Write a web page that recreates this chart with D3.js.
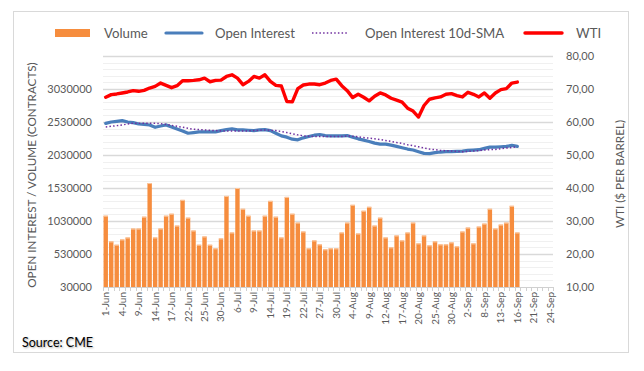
<!DOCTYPE html>
<html>
<head>
<meta charset="utf-8">
<script src="https://cdn.jsdelivr.net/npm/d3@7"></script>
<style>
  body { margin: 0; background: #fff; }
  svg { display: block; font-family: Lato, "Open Sans", sans-serif; }
  .source { text-shadow: 1px 1px 2px rgba(0,0,0,0.35); }
</style>
</head>
<body>
<svg></svg>
<script>
const width = 644;
const height = 371;
const svg = d3.select("svg").attr("width", width).attr("height", height);

// trading days, 2021
const categories = [
	"1-Jun","2-Jun","3-Jun","4-Jun","7-Jun","8-Jun","9-Jun","10-Jun","11-Jun","14-Jun","15-Jun","16-Jun","17-Jun","18-Jun","21-Jun","22-Jun","23-Jun","24-Jun","25-Jun","28-Jun","29-Jun","30-Jun",
	"1-Jul","2-Jul","6-Jul","7-Jul","8-Jul","9-Jul","12-Jul","13-Jul","14-Jul","15-Jul","16-Jul","19-Jul","20-Jul","21-Jul","22-Jul","23-Jul","26-Jul","27-Jul","28-Jul","29-Jul","30-Jul",
	"2-Aug","3-Aug","4-Aug","5-Aug","6-Aug","9-Aug","10-Aug","11-Aug","12-Aug","13-Aug","16-Aug","17-Aug","18-Aug","19-Aug","20-Aug","23-Aug","24-Aug","25-Aug","26-Aug","27-Aug","30-Aug","31-Aug",
	"1-Sep","2-Sep","3-Sep","7-Sep","8-Sep","9-Sep","10-Sep","13-Sep","14-Sep","15-Sep","16-Sep","17-Sep","20-Sep","21-Sep","22-Sep","23-Sep","24-Sep"
];

const volume = [
	1110000, 720000, 670000, 750000, 780000, 915000, 915000, 1095000, 1605000, 780000,
	915000, 1110000, 1140000, 960000, 1350000, 1080000, 885000, 670000, 795000, 670000,
	615000, 765000, 1410000, 855000, 1530000, 1215000, 1110000, 885000, 885000, 1110000,
	1335000, 1095000, 780000, 1395000, 1140000, 1005000, 870000, 615000, 735000, 675000,
	600000, 615000, 615000, 855000, 1005000, 1275000, 840000, 1185000, 1245000, 960000,
	1080000, 780000, 630000, 810000, 735000, 855000, 1005000, 690000, 810000, 660000,
	720000, 675000, 675000, 705000, 645000, 870000, 930000, 690000, 945000, 990000,
	1215000, 915000, 975000, 1005000, 1260000, 855000
];

const openInterest = [
	2510000, 2530000, 2540000, 2550000, 2530000, 2520000, 2500000, 2495000, 2485000, 2450000,
	2470000, 2485000, 2455000, 2425000, 2395000, 2360000, 2370000, 2380000, 2380000, 2380000,
	2380000, 2400000, 2415000, 2425000, 2410000, 2410000, 2405000, 2400000, 2410000, 2415000,
	2400000, 2360000, 2320000, 2300000, 2270000, 2260000, 2290000, 2310000, 2330000, 2340000,
	2325000, 2320000, 2320000, 2320000, 2325000, 2300000, 2275000, 2255000, 2235000, 2210000,
	2195000, 2195000, 2180000, 2160000, 2140000, 2120000, 2105000, 2080000, 2055000, 2050000,
	2065000, 2075000, 2080000, 2080000, 2085000, 2090000, 2100000, 2105000, 2110000, 2130000,
	2150000, 2150000, 2155000, 2160000, 2175000, 2160000
];

const oiSma = [
	2455000, 2465000, 2475000, 2485000, 2500000, 2510000, 2510000, 2510000, 2510000, 2510000,
	2505000, 2495000, 2480000, 2465000, 2450000, 2435000, 2420000, 2415000, 2410000, 2405000,
	2400000, 2395000, 2395000, 2395000, 2395000, 2395000, 2395000, 2400000, 2405000, 2410000,
	2405000, 2400000, 2385000, 2370000, 2350000, 2335000, 2320000, 2315000, 2310000, 2310000,
	2310000, 2310000, 2310000, 2310000, 2320000, 2315000, 2305000, 2295000, 2285000, 2275000,
	2265000, 2250000, 2235000, 2220000, 2205000, 2185000, 2170000, 2155000, 2135000, 2120000,
	2110000, 2100000, 2095000, 2090000, 2085000, 2080000, 2085000, 2090000, 2095000, 2105000,
	2110000, 2115000, 2125000, 2135000, 2145000, 2155000
];

const wti = [
	67.5, 68.3, 68.5, 68.8, 69.1, 69.5, 69.3, 69.6, 70.3, 70.8,
	71.8, 71.1, 70.4, 71.0, 72.5, 72.5, 72.6, 72.8, 73.3, 72.2,
	72.6, 72.7, 73.8, 74.3, 73.3, 71.3, 72.3, 73.8, 73.3, 74.3,
	72.3, 71.1, 70.9, 66.2, 66.1, 70.1, 71.2, 71.5, 71.5, 71.3,
	71.8, 72.6, 73.0, 71.0, 69.5, 67.4, 68.4, 67.5, 66.4, 67.8,
	68.8, 68.2, 67.2, 66.6, 66.0, 64.2, 63.3, 61.5, 65.0, 66.9,
	67.3, 67.6, 68.4, 68.6, 68.0, 67.6, 69.0, 68.4, 67.6, 68.8,
	67.2, 68.8, 69.8, 70.1, 71.8, 72.1
];

const leftTicks = [30000, 530000, 1030000, 1530000, 2030000, 2530000, 3030000];
const rightTicks = [10, 20, 30, 40, 50, 60, 70, 80];

const plotLeft = 103, plotRight = 553, plotTop = 56, plotBottom = 287;

const x = d3.scaleBand()
	.domain(categories)
	.range([plotLeft, plotRight])
	.paddingInner(0.2)
	.paddingOuter(0.1);

const yLeft = d3.scaleLinear().domain([30000, 3530000]).range([plotBottom, plotTop]);
const yRight = d3.scaleLinear().domain([10, 80]).range([plotBottom, plotTop]);

const cx = i => x(categories[i]) + x.bandwidth() / 2;

// outer frame
svg.append("rect")
	.attr("x", 13.5).attr("y", 11.5)
	.attr("width", 615).attr("height", 341)
	.attr("fill", "#fff")
	.attr("stroke", "#d9d9d9");

// gridlines
const grid = svg.append("g");
d3.range(30000, 3530001, 100000).forEach(v => {
	const major = (v - 30000) % 500000 === 0;
	if (v === 30000) return;
	grid.append("line")
		.attr("x1", plotLeft).attr("x2", plotRight)
		.attr("y1", Math.round(yLeft(v)) + 0.5)
		.attr("y2", Math.round(yLeft(v)) + 0.5)
		.attr("stroke", major ? "#d9d9d9" : "#f0f0f0")
		.attr("stroke-width", major ? 1.3 : 1);
});

// bars
svg.append("g")
	.selectAll("rect")
	.data(volume)
	.join("rect")
	.attr("x", (d, i) => x(categories[i]))
	.attr("y", d => yLeft(d))
	.attr("width", x.bandwidth())
	.attr("height", d => yLeft(30000) - yLeft(d))
	.attr("fill", "#f68d3e");

svg.append("g")
	.selectAll("rect")
	.data(volume)
	.join("rect")
	.attr("x", (d, i) => x(categories[i]))
	.attr("y", d => yLeft(d))
	.attr("width", x.bandwidth())
	.attr("height", 1)
	.attr("fill", "#fbc9a2");

// x axis line + ticks
svg.append("line")
	.attr("x1", plotLeft).attr("x2", plotRight)
	.attr("y1", plotBottom + 0.5).attr("y2", plotBottom + 0.5)
	.attr("stroke", "#d0d0d0");

svg.append("g")
	.selectAll("line")
	.data(d3.range(categories.length + 1))
	.join("line")
	.attr("x1", i => Math.round(plotLeft + i * x.step()) + 0.5)
	.attr("x2", i => Math.round(plotLeft + i * x.step()) + 0.5)
	.attr("y1", plotBottom)
	.attr("y2", plotBottom + 4)
	.attr("stroke", "#d0d0d0");

// lines
const lineOI = d3.line().x((d, i) => cx(i)).y(d => yLeft(d));
const lineW = d3.line().x((d, i) => cx(i)).y(d => yRight(d));

svg.append("path")
	.attr("d", lineOI(openInterest))
	.attr("fill", "none")
	.attr("stroke", "#4a7ebb")
	.attr("stroke-width", 3.2)
	.attr("stroke-linejoin", "round")
	.attr("stroke-linecap", "round");

svg.append("path")
	.attr("d", lineOI(oiSma))
	.attr("fill", "none")
	.attr("stroke", "#7030a0")
	.attr("stroke-width", 1.5)
	.attr("stroke-dasharray", "1.5,2.2");

svg.append("path")
	.attr("d", lineW(wti))
	.attr("fill", "none")
	.attr("stroke", "#ff0000")
	.attr("stroke-width", 3.4)
	.attr("stroke-linejoin", "round")
	.attr("stroke-linecap", "round");

// axis labels
const tickColor = "#595959";
svg.append("g")
	.selectAll("text")
	.data(leftTicks)
	.join("text")
	.attr("x", 92)
	.attr("y", d => yLeft(d))
	.attr("dy", "0.35em")
	.attr("text-anchor", "end")
	.attr("font-size", 11)
	.attr("fill", tickColor)
	.text(d => d);

svg.append("g")
	.selectAll("text")
	.data(rightTicks)
	.join("text")
	.attr("x", 566)
	.attr("y", d => yRight(d))
	.attr("dy", "0.35em")
	.attr("font-size", 11)
	.attr("fill", tickColor)
	.text(d => d3.format(".2f")(d).replace(".", ","));

svg.append("g")
	.selectAll("text")
	.data(categories.filter((c, i) => i % 3 === 0))
	.join("text")
	.attr("transform", d => `translate(${x(d) + x.bandwidth() / 2 + 3.5},292) rotate(-90)`)
	.attr("text-anchor", "end")
	.attr("font-size", 10)
	.attr("fill", tickColor)
	.text(d => d);

svg.append("text")
	.attr("transform", "translate(36,175) rotate(-90)")
	.attr("text-anchor", "middle")
	.attr("font-size", 11.7)
	.attr("fill", tickColor)
	.text("OPEN INTEREST / VOLUME (CONTRACTS)");

svg.append("text")
	.attr("transform", "translate(624,174) rotate(-90)")
	.attr("text-anchor", "middle")
	.attr("font-size", 11.7)
	.attr("fill", tickColor)
	.text("WTI ($ PER BARREL)");

// legend
const legend = svg.append("g").attr("font-size", 13.2).attr("fill", tickColor);
legend.append("rect").attr("x", 55).attr("y", 29).attr("width", 35).attr("height", 8).attr("fill", "#f68d3e");
legend.append("text").attr("x", 104).attr("y", 33).attr("dy", "0.35em").text("Volume");
legend.append("line").attr("x1", 166).attr("x2", 202).attr("y1", 33).attr("y2", 33)
	.attr("stroke", "#4a7ebb").attr("stroke-width", 3.2).attr("stroke-linecap", "round");
legend.append("text").attr("x", 215).attr("y", 33).attr("dy", "0.35em").text("Open Interest");
legend.append("line").attr("x1", 312).attr("x2", 349).attr("y1", 33).attr("y2", 33)
	.attr("stroke", "#7030a0").attr("stroke-width", 1.5).attr("stroke-dasharray", "1.5,2.2");
legend.append("text").attr("x", 365).attr("y", 33).attr("dy", "0.35em").text("Open Interest 10d-SMA");
legend.append("line").attr("x1", 525).attr("x2", 562).attr("y1", 33).attr("y2", 33)
	.attr("stroke", "#ff0000").attr("stroke-width", 3.4).attr("stroke-linecap", "round");
legend.append("text").attr("x", 576).attr("y", 33).attr("dy", "0.35em").text("WTI");

svg.append("text")
	.attr("class", "source")
	.attr("x", 22)
	.attr("y", 347)
	.attr("font-size", 12.5)
	.attr("fill", "#000")
	.text("Source: CME");
</script>
</body>
</html>
